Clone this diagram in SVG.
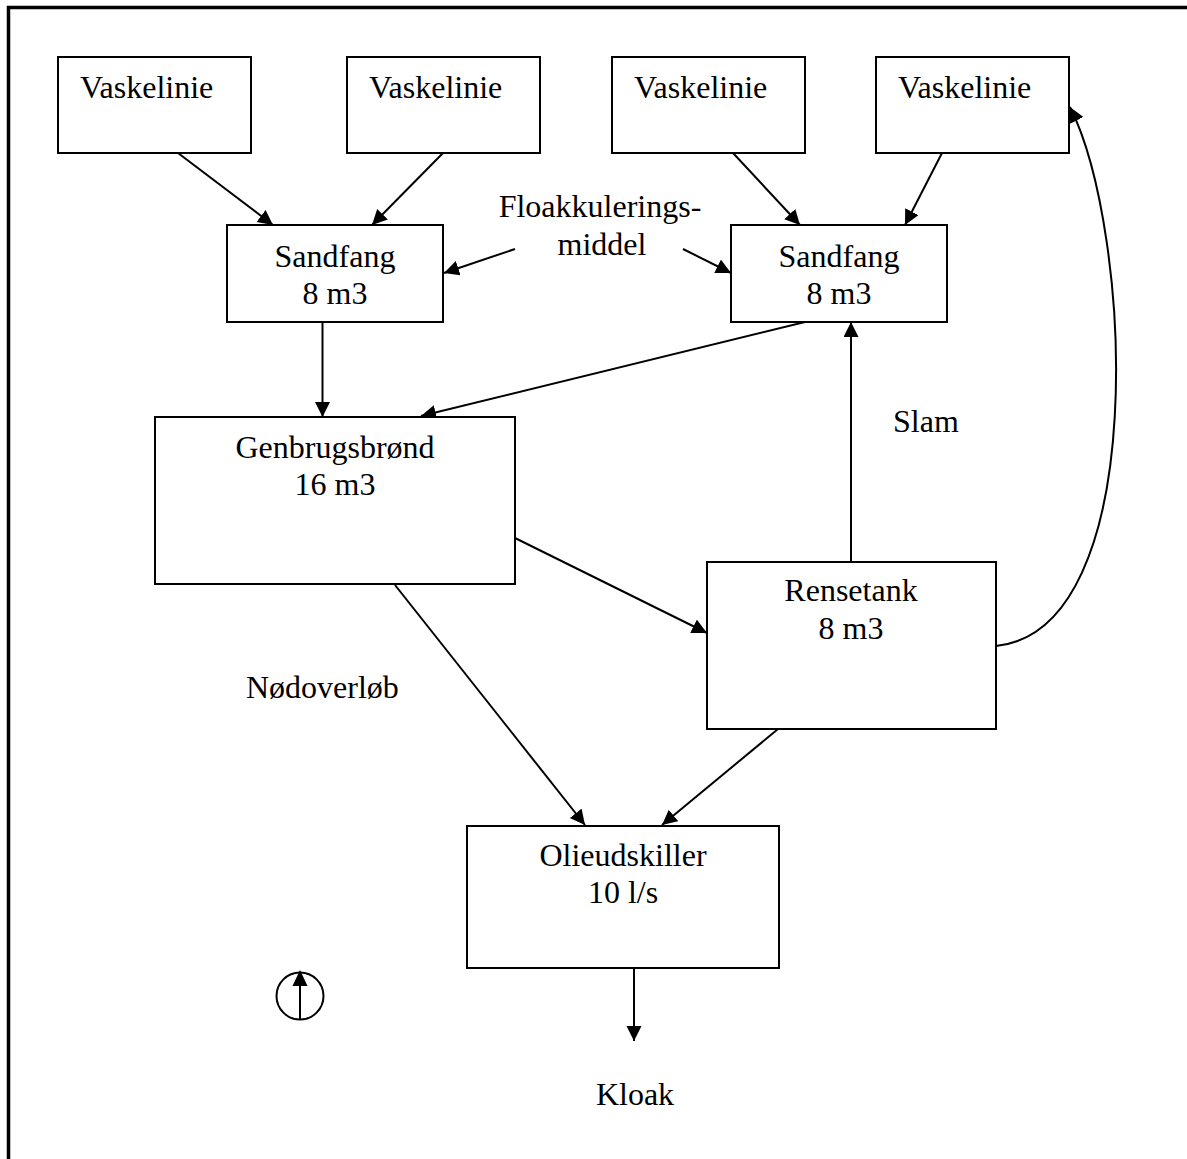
<svg xmlns="http://www.w3.org/2000/svg" width="1187" height="1159" viewBox="0 0 1187 1159">
<style>
.box{fill:#fff;stroke:#000;stroke-width:2}
.t{font-family:"Liberation Serif","Times New Roman",serif;font-size:32px;fill:#000}
.c{text-anchor:middle}
.ln{stroke:#000;stroke-width:2;fill:none;marker-end:url(#ah)}
</style>
<defs>
<marker id="ah" markerUnits="userSpaceOnUse" markerWidth="16" markerHeight="16" refX="15" refY="7.5" orient="auto">
<path d="M0,0 L15,7.5 L0,15 z" fill="#000"/>
</marker>
</defs>
<rect width="1187" height="1159" fill="#fff"/>
<path d="M8.5,1159 V7.5 H1187" stroke="#000" stroke-width="3.5" fill="none"/>

<g id="connectors">
<line class="ln" x1="178" y1="153" x2="273" y2="225"/>
<line class="ln" x1="443" y1="153" x2="372" y2="225"/>
<line class="ln" x1="733" y1="153" x2="800" y2="225"/>
<line class="ln" x1="942" y1="153" x2="905" y2="225"/>
<line class="ln" x1="515" y1="249" x2="444" y2="273"/>
<line class="ln" x1="683" y1="249" x2="731" y2="273"/>
<line class="ln" x1="322.5" y1="322" x2="322.5" y2="417"/>
<line class="ln" x1="805" y1="322" x2="421" y2="416"/>
<line class="ln" x1="851" y1="562" x2="851" y2="322"/>
<line class="ln" x1="515" y1="538" x2="707" y2="633"/>
<line class="ln" x1="395" y1="585" x2="585" y2="825"/>
<line class="ln" x1="778" y1="729" x2="662" y2="825"/>
<line class="ln" x1="634" y1="968" x2="634" y2="1041"/>
<path class="ln" d="M996,646 C1152,630 1132,230 1070,107"/>
</g>

<g id="vask1"><rect class="box" x="58" y="57" width="193" height="96"/><text class="t" x="80" y="98">Vaskelinie</text></g>
<g id="vask2"><rect class="box" x="347" y="57" width="193" height="96"/><text class="t" x="369" y="98">Vaskelinie</text></g>
<g id="vask3"><rect class="box" x="612" y="57" width="193" height="96"/><text class="t" x="634" y="98">Vaskelinie</text></g>
<g id="vask4"><rect class="box" x="876" y="57" width="193" height="96"/><text class="t" x="898" y="98">Vaskelinie</text></g>

<g id="sandfang1"><rect class="box" x="227" y="225" width="216" height="97"/><text class="t c" x="335" y="267">Sandfang</text><text class="t c" x="335" y="304">8 m3</text></g>
<g id="sandfang2"><rect class="box" x="731" y="225" width="216" height="97"/><text class="t c" x="839" y="267">Sandfang</text><text class="t c" x="839" y="304">8 m3</text></g>

<g id="floak"><text class="t c" x="600" y="217">Floakkulerings-</text><text class="t c" x="602" y="255">middel</text></g>

<g id="genbrug"><rect class="box" x="155" y="417" width="360" height="167"/><text class="t c" x="335" y="458">Genbrugsbrønd</text><text class="t c" x="335" y="495">16 m3</text></g>

<g id="slam"><text class="t" x="893" y="432">Slam</text></g>

<g id="rensetank"><rect class="box" x="707" y="562" width="289" height="167"/><text class="t c" x="851" y="601">Rensetank</text><text class="t c" x="851" y="639">8 m3</text></g>

<g id="nodoverlob"><text class="t" x="246" y="698">Nødoverløb</text></g>

<g id="olie"><rect class="box" x="467" y="826" width="312" height="142"/><text class="t c" x="623" y="866">Olieudskiller</text><text class="t c" x="623" y="903">10 l/s</text></g>

<g id="kloak"><text class="t c" x="635" y="1105">Kloak</text></g>

<g id="compass">
<circle cx="300" cy="996" r="23.5" fill="none" stroke="#000" stroke-width="2"/>
<line x1="300" y1="1020" x2="300" y2="984" stroke="#000" stroke-width="2"/>
<path d="M300,970 L307.5,986 L292.5,986 z" fill="#000"/>
</g>
</svg>
